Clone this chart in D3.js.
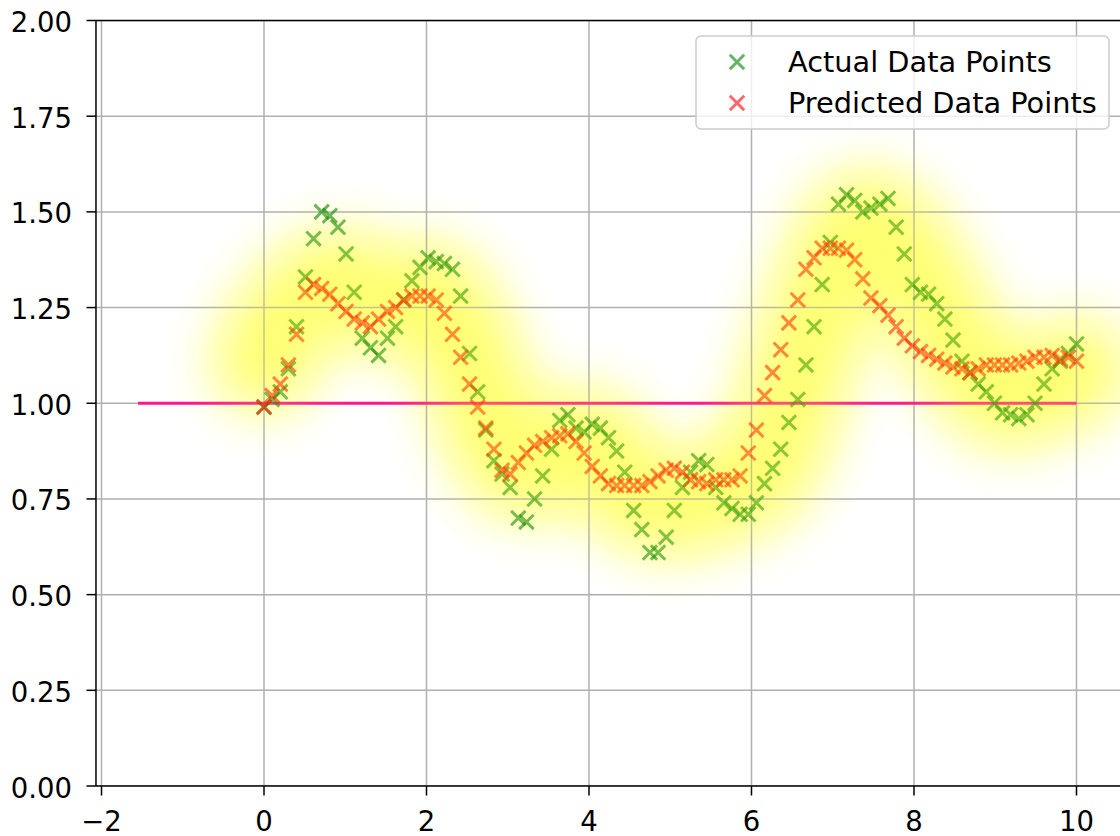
<!DOCTYPE html>
<html><head><meta charset="utf-8">
<script src="https://cdn.jsdelivr.net/npm/d3@7"></script>
<style>body{margin:0;background:#fff;} svg{display:block;font-family:"DejaVu Sans",sans-serif;}</style>
</head><body><svg id="c" width="1120" height="836"></svg>
<script>
const xValues = [0.00,0.10,0.20,0.30,0.40,0.51,0.61,0.71,0.81,0.91,
1.01,1.11,1.21,1.31,1.41,1.52,1.62,1.72,1.82,1.92,
2.02,2.12,2.22,2.32,2.42,2.53,2.63,2.73,2.83,2.93,
3.03,3.13,3.23,3.33,3.43,3.54,3.64,3.74,3.84,3.94,
4.04,4.14,4.24,4.34,4.44,4.55,4.65,4.75,4.85,4.95,
5.05,5.15,5.25,5.35,5.45,5.56,5.66,5.76,5.86,5.96,
6.06,6.16,6.26,6.36,6.46,6.57,6.67,6.77,6.87,6.97,
7.07,7.17,7.27,7.37,7.47,7.58,7.68,7.78,7.88,7.98,
8.08,8.18,8.28,8.38,8.48,8.59,8.69,8.79,8.89,8.99,
9.09,9.19,9.29,9.39,9.49,9.60,9.70,9.80,9.90,10.00];
const actualValues = [0.99,1.01,1.03,1.09,1.20,1.33,1.43,1.50,1.49,1.46,
1.39,1.29,1.17,1.145,1.125,1.17,1.20,1.27,1.32,1.355,
1.38,1.37,1.365,1.35,1.28,1.13,1.03,0.93,0.85,0.815,
0.78,0.70,0.69,0.75,0.81,0.88,0.955,0.97,0.935,0.925,
0.945,0.935,0.91,0.875,0.82,0.72,0.67,0.61,0.61,0.65,
0.72,0.78,0.82,0.85,0.84,0.78,0.74,0.725,0.71,0.71,
0.74,0.79,0.83,0.88,0.95,1.01,1.10,1.20,1.31,1.42,
1.52,1.545,1.53,1.50,1.51,1.52,1.535,1.46,1.39,1.31,
1.29,1.285,1.26,1.22,1.165,1.11,1.08,1.05,1.03,1.00,
0.975,0.97,0.96,0.97,1.00,1.05,1.09,1.11,1.13,1.155];
const predictedValues = [0.99,1.02,1.05,1.10,1.18,1.29,1.31,1.30,1.285,1.26,
1.24,1.22,1.21,1.20,1.22,1.24,1.25,1.27,1.28,1.28,
1.28,1.27,1.235,1.18,1.12,1.05,0.99,0.935,0.88,0.825,
0.815,0.845,0.87,0.89,0.90,0.91,0.915,0.92,0.90,0.87,
0.835,0.81,0.79,0.785,0.785,0.785,0.785,0.795,0.81,0.825,
0.83,0.82,0.80,0.795,0.79,0.80,0.80,0.80,0.81,0.87,
0.93,1.02,1.08,1.14,1.21,1.27,1.35,1.38,1.405,1.405,
1.405,1.40,1.375,1.325,1.275,1.255,1.23,1.20,1.17,1.15,
1.135,1.125,1.115,1.105,1.095,1.09,1.08,1.09,1.10,1.10,
1.10,1.10,1.105,1.11,1.12,1.12,1.125,1.115,1.12,1.11];
const xTicks = [-2,0,2,4,6,8,10];
const yTicks = [0.00,0.25,0.50,0.75,1.00,1.25,1.50,1.75,2.00];
const refLineX = [-1.55,10];
const refLineY = 1.0;
const legendLabels = ["Actual Data Points","Predicted Data Points"];
const seriesColors = ["#008000","#ff0000"];

const svg = d3.select("#c");
const x = d3.scaleLinear().domain([0,10]).range([264,1076.5]);
const y = d3.scaleLinear().domain([0,2]).range([786,20.5]);
const xmin = -2.068, xmax = 10.575;
const L = x(xmin), R = x(xmax), T = y(2), B = y(0);

const defs = svg.append("defs");
defs.append("filter").attr("id","glow").attr("x","-30%").attr("y","-60%").attr("width","160%").attr("height","220%")
  .append("feGaussianBlur").attr("stdDeviation",26);
defs.append("clipPath").attr("id","clip").append("rect").attr("x",L).attr("y",T).attr("width",R-L).attr("height",B-T);

const plot = svg.append("g").attr("clip-path","url(#clip)");

// glow along a smoothed version of the actual data
const pts = xValues.map((xv,i)=>{
  const lo=Math.max(0,i-5), hi=Math.min(xValues.length-1,i+5);
  const m=d3.mean(actualValues.slice(lo,hi+1));
  return [x(xv), y(m)];
});
const glowD = d3.line().curve(d3.curveBasis)(pts);
function drawGlow(op){
  plot.append("path").attr("d", glowD)
    .attr("fill","none").attr("stroke","#ffff10").attr("stroke-width",98).attr("stroke-linecap","round")
    .attr("stroke-linejoin","round").attr("opacity",op).attr("filter","url(#glow)");
}
drawGlow(0.42);

// grid
plot.selectAll(".gx").data(xTicks).join("line").attr("x1",d=>x(d)).attr("x2",d=>x(d)).attr("y1",T).attr("y2",B)
  .attr("stroke","#b0b0b0").attr("stroke-width",1.5);
plot.selectAll(".gy").data(yTicks).join("line").attr("y1",d=>y(d)).attr("y2",d=>y(d)).attr("x1",L).attr("x2",R)
  .attr("stroke","#b0b0b0").attr("stroke-width",1.5);

// reference line
plot.append("line").attr("x1",x(refLineX[0])).attr("x2",x(refLineX[1])).attr("y1",y(refLineY)).attr("y2",y(refLineY))
  .attr("stroke","#ff1493").attr("stroke-width",3);

const s=7.2;
const xPath = `M${-s},${-s}L${s},${s}M${-s},${s}L${s},${-s}`;
function scatter(vals,color){
  plot.append("g").selectAll("path").data(vals).join("path")
    .attr("transform",(d,i)=>`translate(${x(xValues[i])},${y(d)})`)
    .attr("d",xPath).attr("stroke",color).attr("stroke-width",3).attr("fill","none").attr("opacity",0.6);
}
scatter(actualValues, seriesColors[0]);
scatter(predictedValues, seriesColors[1]);

drawGlow(0.27);

// spines
svg.append("line").attr("x1",L).attr("x2",L).attr("y1",T).attr("y2",B).attr("stroke","#000").attr("stroke-width",1.5);
svg.append("line").attr("x1",L).attr("x2",R).attr("y1",B).attr("y2",B).attr("stroke","#000").attr("stroke-width",1.5);
svg.append("line").attr("x1",L).attr("x2",R).attr("y1",T).attr("y2",T).attr("stroke","#000").attr("stroke-width",1.5);
svg.append("line").attr("x1",R).attr("x2",R).attr("y1",T).attr("y2",B).attr("stroke","#000").attr("stroke-width",1.5);

// ticks
const fs = 27.5;
svg.selectAll(".tx").data(xTicks).join("line").attr("x1",d=>x(d)).attr("x2",d=>x(d)).attr("y1",B).attr("y2",B+9.5)
  .attr("stroke","#000").attr("stroke-width",1.5);
svg.selectAll(".lx").data(xTicks).join("text").attr("x",d=>x(d)).attr("y",B+45).attr("text-anchor","middle")
  .attr("font-size",fs).attr("fill","#000").text(d=>d<0?"\u2212"+Math.abs(d):d);
svg.selectAll(".ty").data(yTicks).join("line").attr("x1",L-9.5).attr("x2",L).attr("y1",d=>y(d)).attr("y2",d=>y(d))
  .attr("stroke","#000").attr("stroke-width",1.5);
svg.selectAll(".ly").data(yTicks).join("text").attr("x",L-24).attr("y",d=>y(d)+11.5).attr("text-anchor","end")
  .attr("font-size",fs).attr("fill","#000").text(d=>d.toFixed(2));

// legend
const lg = svg.append("g");
lg.append("rect").attr("x",696).attr("y",36).attr("width",413).attr("height",93).attr("rx",5)
  .attr("fill","#fff").attr("fill-opacity",0.8).attr("stroke","#cccccc").attr("stroke-width",1.5);
legendLabels.forEach((lab,i)=>{
  const cy = 62+i*41;
  lg.append("path").attr("transform",`translate(737,${cy})`).attr("d",xPath)
    .attr("stroke",seriesColors[i]).attr("stroke-width",3).attr("fill","none").attr("opacity",0.6);
  lg.append("text").attr("x",788).attr("y",cy+10).attr("font-size",28.8).attr("fill","#000").text(lab);
});
</script></body></html>
